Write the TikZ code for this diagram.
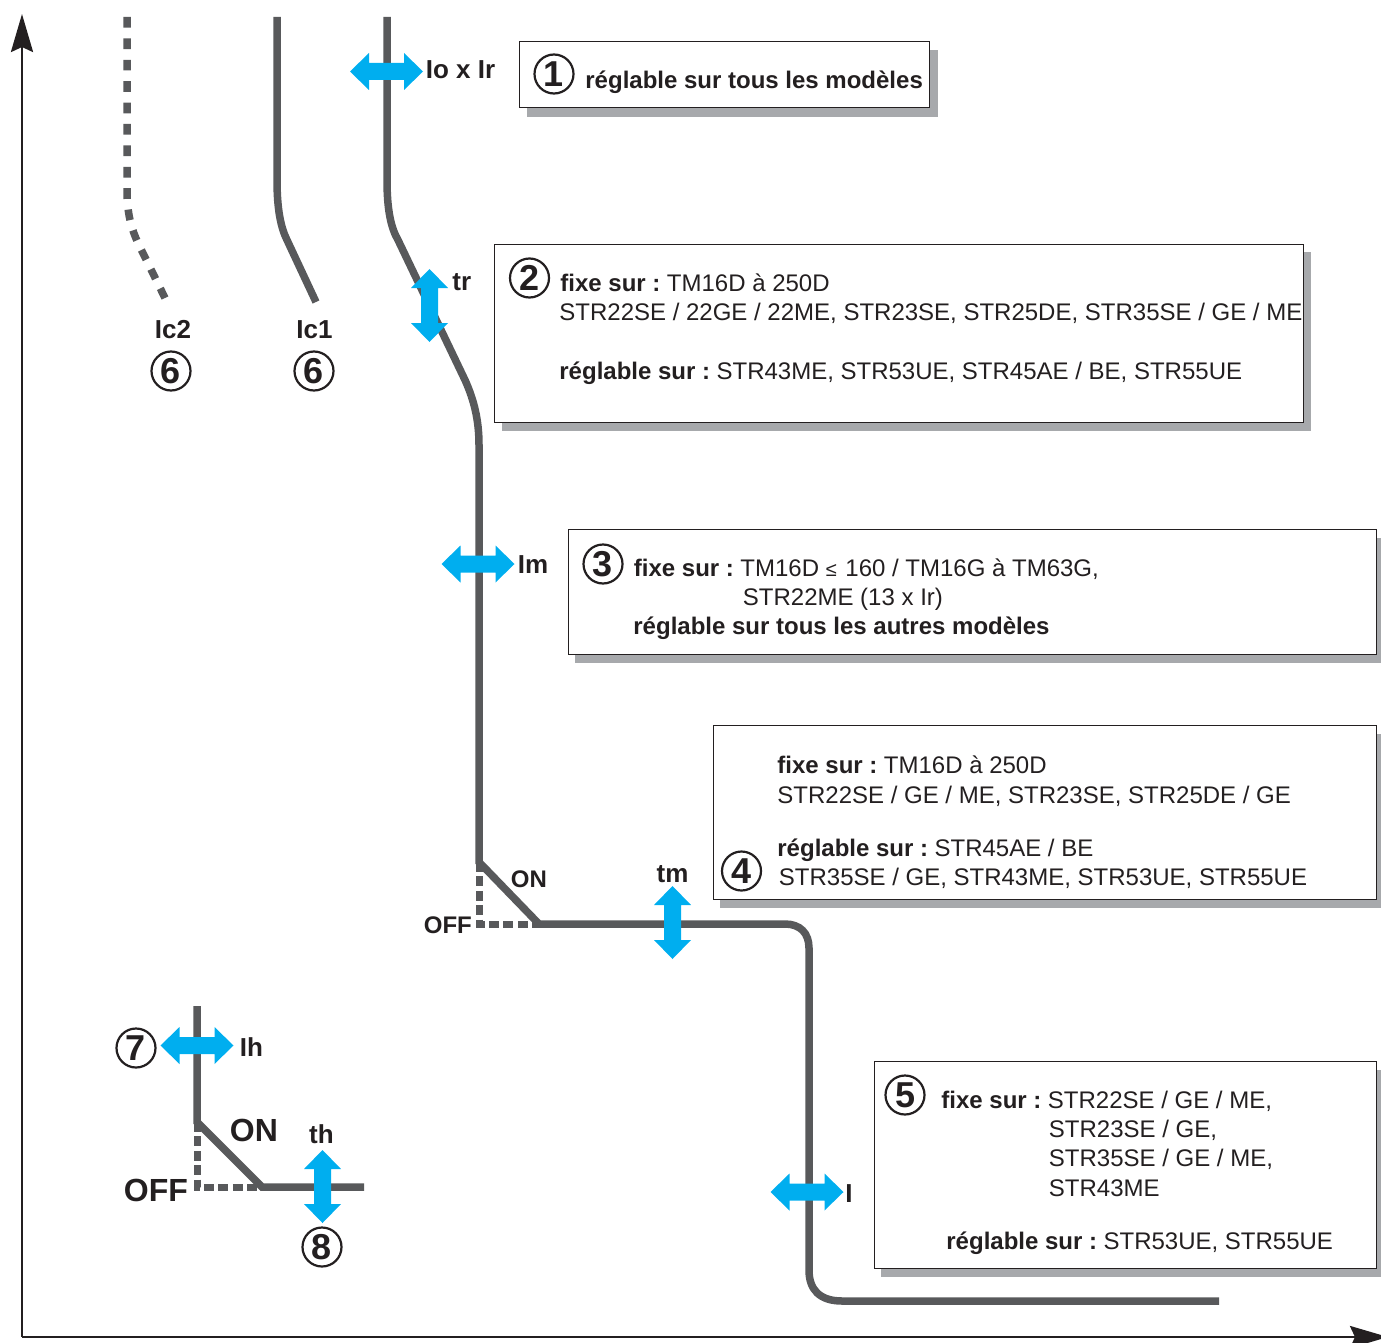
\documentclass[tikz,border=0pt]{standalone}
\usepackage{fontspec}
\setmainfont{Liberation Sans}
\usetikzlibrary{arrows.meta}
\definecolor{courbe}{HTML}{58595B}
\definecolor{ombre}{HTML}{A7A9AC}
\definecolor{fleche}{HTML}{00AEEF}
\definecolor{noir}{HTML}{231F20}
\newcommand{\gras}[1]{\textbf{#1}\hspace{-1.2pt}}
\tikzset{
	courbeline/.style = {draw = courbe, line width = 3.75pt},
	offline/.style = {draw = courbe, line width = 3.5pt, dash pattern = on 5pt off 2.2pt},
	axe/.style = {draw = noir, line width = 1.4pt, -{Stealth[length = 19pt, width = 11pt, inset = 2.5pt]}},
	cadre/.style = {draw = noir, line width = 0.45pt, fill = white},
	ombrage/.style = {fill = ombre},
	regle/.pic = {\fill [fleche] (-36.5,0) -- (-17.5,-18.5) -- (-17.5,-8.5) -- (17.5,-8.5) -- (17.5,-18.5) -- (36.5,0) -- (17.5,18.5) -- (17.5,8.5) -- (-17.5,8.5) -- (-17.5,18.5) -- cycle;},
	texte/.style = {anchor = base west, inner sep = 0pt, text = noir, font = \fontsize{12}{14}\selectfont},
	titre/.style = {anchor = base west, inner sep = 0pt, text = noir, font = \fontsize{13}{15}\selectfont\bfseries},
	titrec/.style = {titre, anchor = base},
	petit/.style = {titre, font = \fontsize{12}{14}\selectfont\bfseries},
	grand/.style = {titre, font = \fontsize{16}{18}\selectfont\bfseries},
	numero/.style = {circle, draw = noir, line width = 1.1pt, minimum size = 19.5pt, inner sep = 0pt, text = noir, font = \fontsize{18}{18}\selectfont\bfseries}
}
\begin{document}
\begin{tikzpicture} [x = 0.5pt, y = -0.5pt]
	\useasboundingbox (0,0) rectangle (1381,1343);
	% axes
	\draw [axe] (22,1337) -- (22,14);
	\draw [axe] (22,1337) -- (1388,1337);
	% cadres
	\fill [ombrage] (527,50) rectangle (938,117);
	\draw [cadre] (519.5,41.5) rectangle (929.5,107.5);
	\fill [ombrage] (502,252) rectangle (1311,431);
	\draw [cadre] (494.5,244.5) rectangle (1303.5,422.5);
	\fill [ombrage] (575,538) rectangle (1381,663);
	\draw [cadre] (568.5,529.5) rectangle (1376.5,654.5);
	\fill [ombrage] (720,734) rectangle (1381,908);
	\draw [cadre] (713.5,725.5) rectangle (1376.5,899.5);
	\fill [ombrage] (881,1070) rectangle (1381,1277);
	\draw [cadre] (874.5,1061.5) rectangle (1376.5,1268.5);
	% courbes
	\draw [courbeline, dash pattern = on 5.35pt off 5.35pt] (127,17) -- (127,190) .. controls (127,215) and (132,230) .. (138,243) -- (165,298);
	\draw [courbeline] (277,17) -- (277,180) .. controls (277,210) and (281,228) .. (287,240) -- (316,302);
	\draw [offline] (479,862) -- (479,924) -- (539,924);
	\draw [courbeline] (387,17) -- (387,180) .. controls (387,210) and (391,228) .. (398,240) -- (465,380) .. controls (474,400) and (479,420) .. (479,445) -- (479,862) -- (539,924) -- (785,924) .. controls (800,924) and (809,933) .. (809,948) -- (809,1270) .. controls (809,1290) and (820,1301) .. (842,1301) -- (1219,1301);
	\draw [offline] (197,1122) -- (197,1187) -- (262,1187);
	\draw [courbeline] (197,1006) -- (197,1122) -- (262,1187) -- (364,1187);
	% fleches
	\pic at (386.5,71.5) {regle};
	\pic [rotate = 90] at (429.5,305.5) {regle};
	\pic at (478,564) {regle};
	\pic [rotate = 90] at (672.5,922.5) {regle};
	\pic at (807,1192) {regle};
	\pic at (197,1045.5) {regle};
	\pic [rotate = 90] at (322.5,1186.5) {regle};
	% reperes
	\node [titre] (tioir) at (425.5,79) {Io x Ir};
	\node [titre] (ttr) at (452,290) {tr};
	\node [titrec] (tic2) at (173,338) {Ic2};
	\node [titrec] (tic1) at (314.5,338) {Ic1};
	\node [titre] (tim) at (517.5,573) {Im};
	\node [petit] (ton) at (510.5,887) {ON};
	\node [petit] (toff) at (423.5,933) {OFF};
	\node [titrec] (ttm) at (672.5,882) {tm};
	\node [titre] (ti) at (845,1202) {I};
	\node [titre] (tih) at (239.5,1056) {Ih};
	\node [grand] (tonh) at (229.5,1141) {ON};
	\node [grand] (toffh) at (123.5,1201) {OFF};
	\node [titrec] (tth) at (321.5,1143) {th};
	% numeros
	\node [numero] (n1) at (554,74) {1};
	\node [numero] (n2) at (529.5,278) {2};
	\node [numero] (n3) at (603,564) {3};
	\node [numero] (n4) at (741.5,871) {4};
	\node [numero] (n5) at (905,1095) {5};
	\node [numero] (n6a) at (171,371) {6};
	\node [numero] (n6b) at (314,371) {6};
	\node [numero] (n7) at (136,1048) {7};
	\node [numero] (n8) at (322,1247) {8};
	% textes
	\node [texte] (a1) at (585,89) {\textbf{réglable sur tous les modèles}};
	\node [texte] (b1) at (560,291) {\gras{fixe sur :} TM16D à 250D};
	\node [texte] (b2) at (559,320) {STR22SE / 22GE / 22ME, STR23SE, STR25DE, STR35SE / GE / ME};
	\node [texte] (b3) at (559,379) {\gras{réglable sur :} STR43ME, STR53UE, STR45AE / BE, STR55UE};
	\node [texte] (c1) at (633.5,576) {\gras{fixe sur :} TM16D {\fontsize{10}{10}\selectfont ≤}\hspace{1pt} 160 / TM16G à TM63G,};
	\node [texte] (c2) at (742.5,605) {STR22ME (13 x Ir)};
	\node [texte] (c3) at (633,634) {\textbf{réglable sur tous les autres modèles}};
	\node [texte] (d1) at (777,773) {\gras{fixe sur :} TM16D à 250D};
	\node [texte] (d2) at (777,803) {STR22SE / GE / ME, STR23SE, STR25DE / GE};
	\node [texte] (d3) at (777,856) {\gras{réglable sur :} STR45AE / BE};
	\node [texte] (d4) at (778.5,885) {STR35SE / GE, STR43ME, STR53UE, STR55UE};
	\node [texte] (e1) at (941,1108) {\gras{fixe sur :} STR22SE / GE / ME,};
	\node [texte] (e2) at (1048.5,1137) {STR23SE / GE,};
	\node [texte] (e3) at (1048.5,1166) {STR35SE / GE / ME,};
	\node [texte] (e4) at (1048.5,1196) {STR43ME};
	\node [texte] (e5) at (946,1249) {\gras{réglable sur :} STR53UE, STR55UE};
\end{tikzpicture}
\end{document}
